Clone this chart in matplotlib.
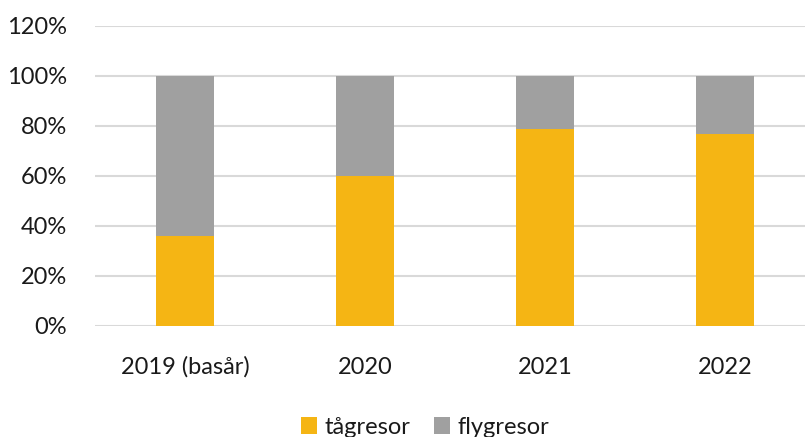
import matplotlib.pyplot as plt
from matplotlib.ticker import PercentFormatter

plt.rcParams['font.family'] = ['Lato', 'DejaVu Sans']

categories = ['2019 (basår)', '2020', '2021', '2022']
tag = [36, 60, 79, 77]
fly = [64, 40, 21, 23]

fig = plt.figure(figsize=(8.05, 4.37), dpi=100)
W, H = 805, 437
ax = fig.add_axes([95 / W, (H - 326) / H, 720 / W, 300 / H])

x = range(len(categories))
ax.bar(x, tag, width=0.32, color='#F5B514', label='tågresor', zorder=3)
ax.bar(x, fly, width=0.32, bottom=tag, color='#A0A0A0', label='flygresor', zorder=3)

ax.set_xlim(-0.5, 3.5)
ax.set_ylim(0, 120)
ax.set_yticks(range(0, 121, 20))
ax.yaxis.set_major_formatter(PercentFormatter(decimals=0))
ax.grid(axis='y', color='#D9D9D9', linewidth=1.5, zorder=0)
for s in ax.spines.values():
    s.set_visible(False)
ax.tick_params(length=0, labelsize=17, colors='#1a1a1a')
ax.tick_params(axis='y', pad=20)
ax.tick_params(axis='x', pad=22)
ax.set_xticks(list(x))
ax.set_xticklabels(categories)

fig.legend(loc='lower center', bbox_to_anchor=(425 / W, -0.05), ncol=2, frameon=False,
           fontsize=17, handlelength=0.7, handleheight=0.7, handletextpad=0.3,
           columnspacing=1.0, labelcolor='#1a1a1a')

fig.savefig('out.png', dpi=100)
